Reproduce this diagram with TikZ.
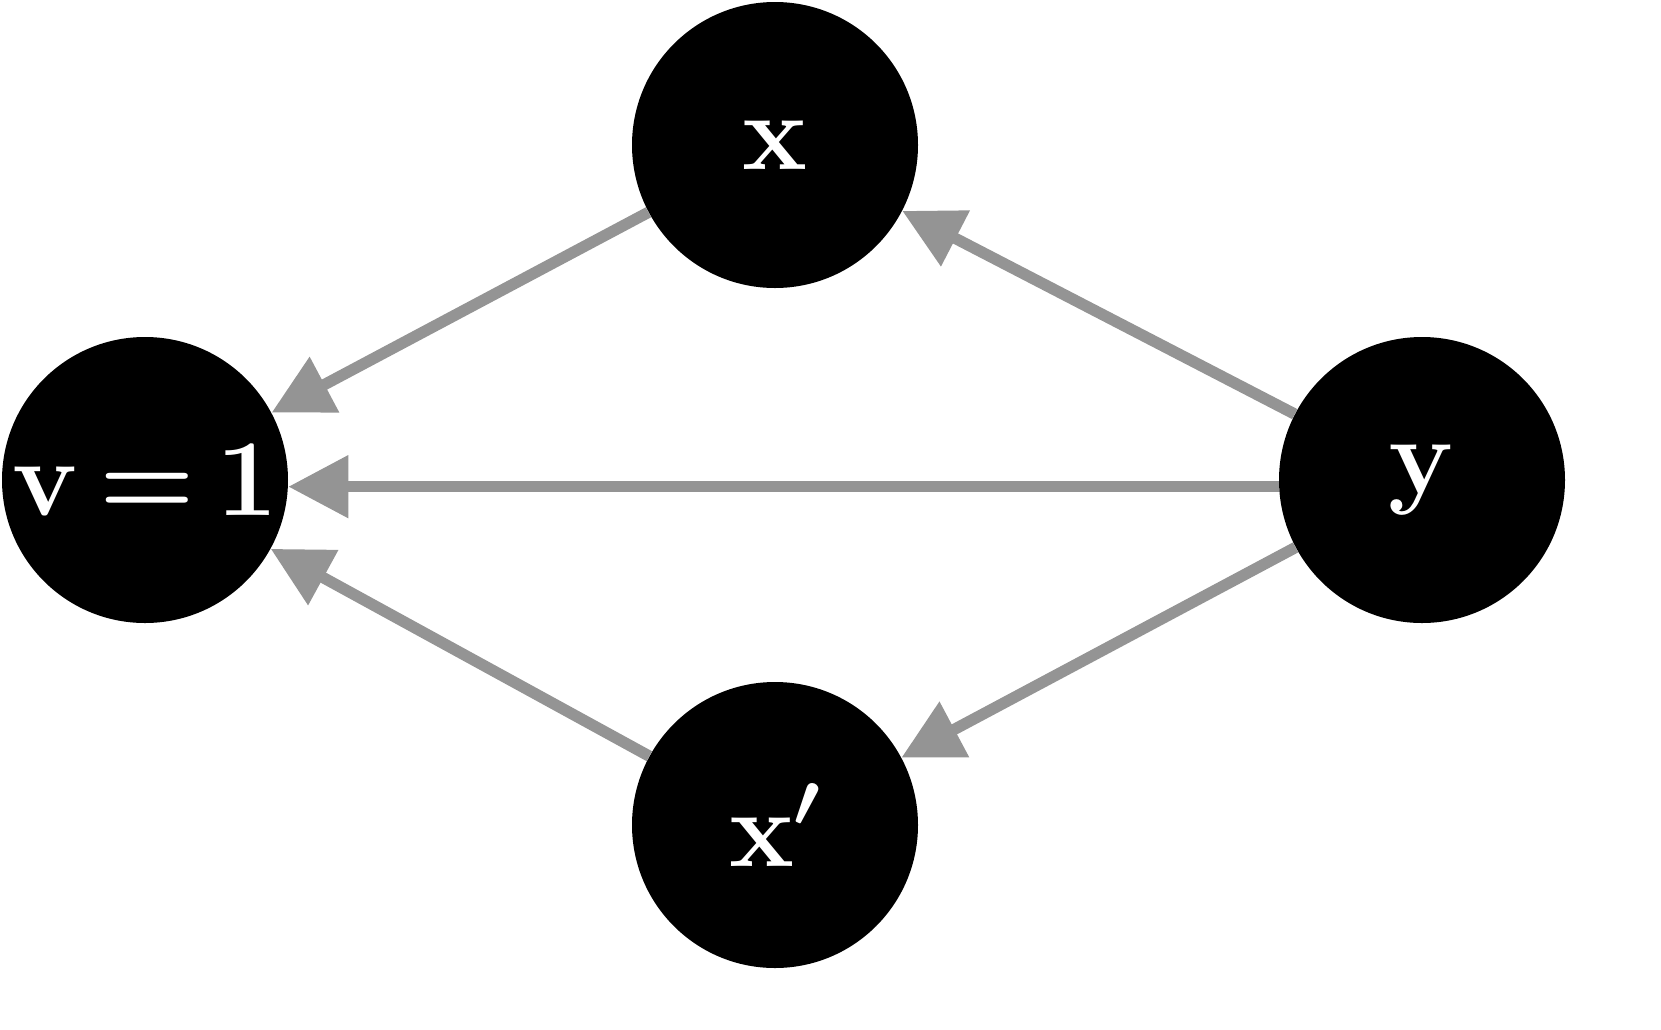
\documentclass[tikz,border=0pt]{standalone}
\usepackage{fix-cm}
\usetikzlibrary{arrows.meta}
\begin{document}
\begin{tikzpicture}[x=0.75pt,y=-0.75pt,
  vert/.style={circle,fill=black,inner sep=0pt,minimum size=214.5pt,text=white,font=\fontsize{82}{82}\selectfont\boldmath},
  edge/.style={draw=black!42,line width=8.5pt,-{Triangle[length=45pt,width=45pt]}}]
\useasboundingbox (0,0) rectangle (1661,1029);
\node[vert] (v) at (145,480) {$\mathbf{v}\,{=}\,\mathbf{1}$};
\node[vert] (x) at (775,145) {$\mathbf{x}$};
\node[vert] (y) at (1422,480) {$\mathbf{y}$};
\node[vert] (xp) at (775,825) {$\mathbf{x}'$};
\draw[edge] (x) -- (v);
\draw[edge] (y) -- (x);
\draw[edge] ([yshift=-5pt]y.west) -- ([yshift=-5pt]v.east);
\draw[edge] (y) -- (xp);
\draw[edge] (xp) -- (v);
\end{tikzpicture}
\end{document}
